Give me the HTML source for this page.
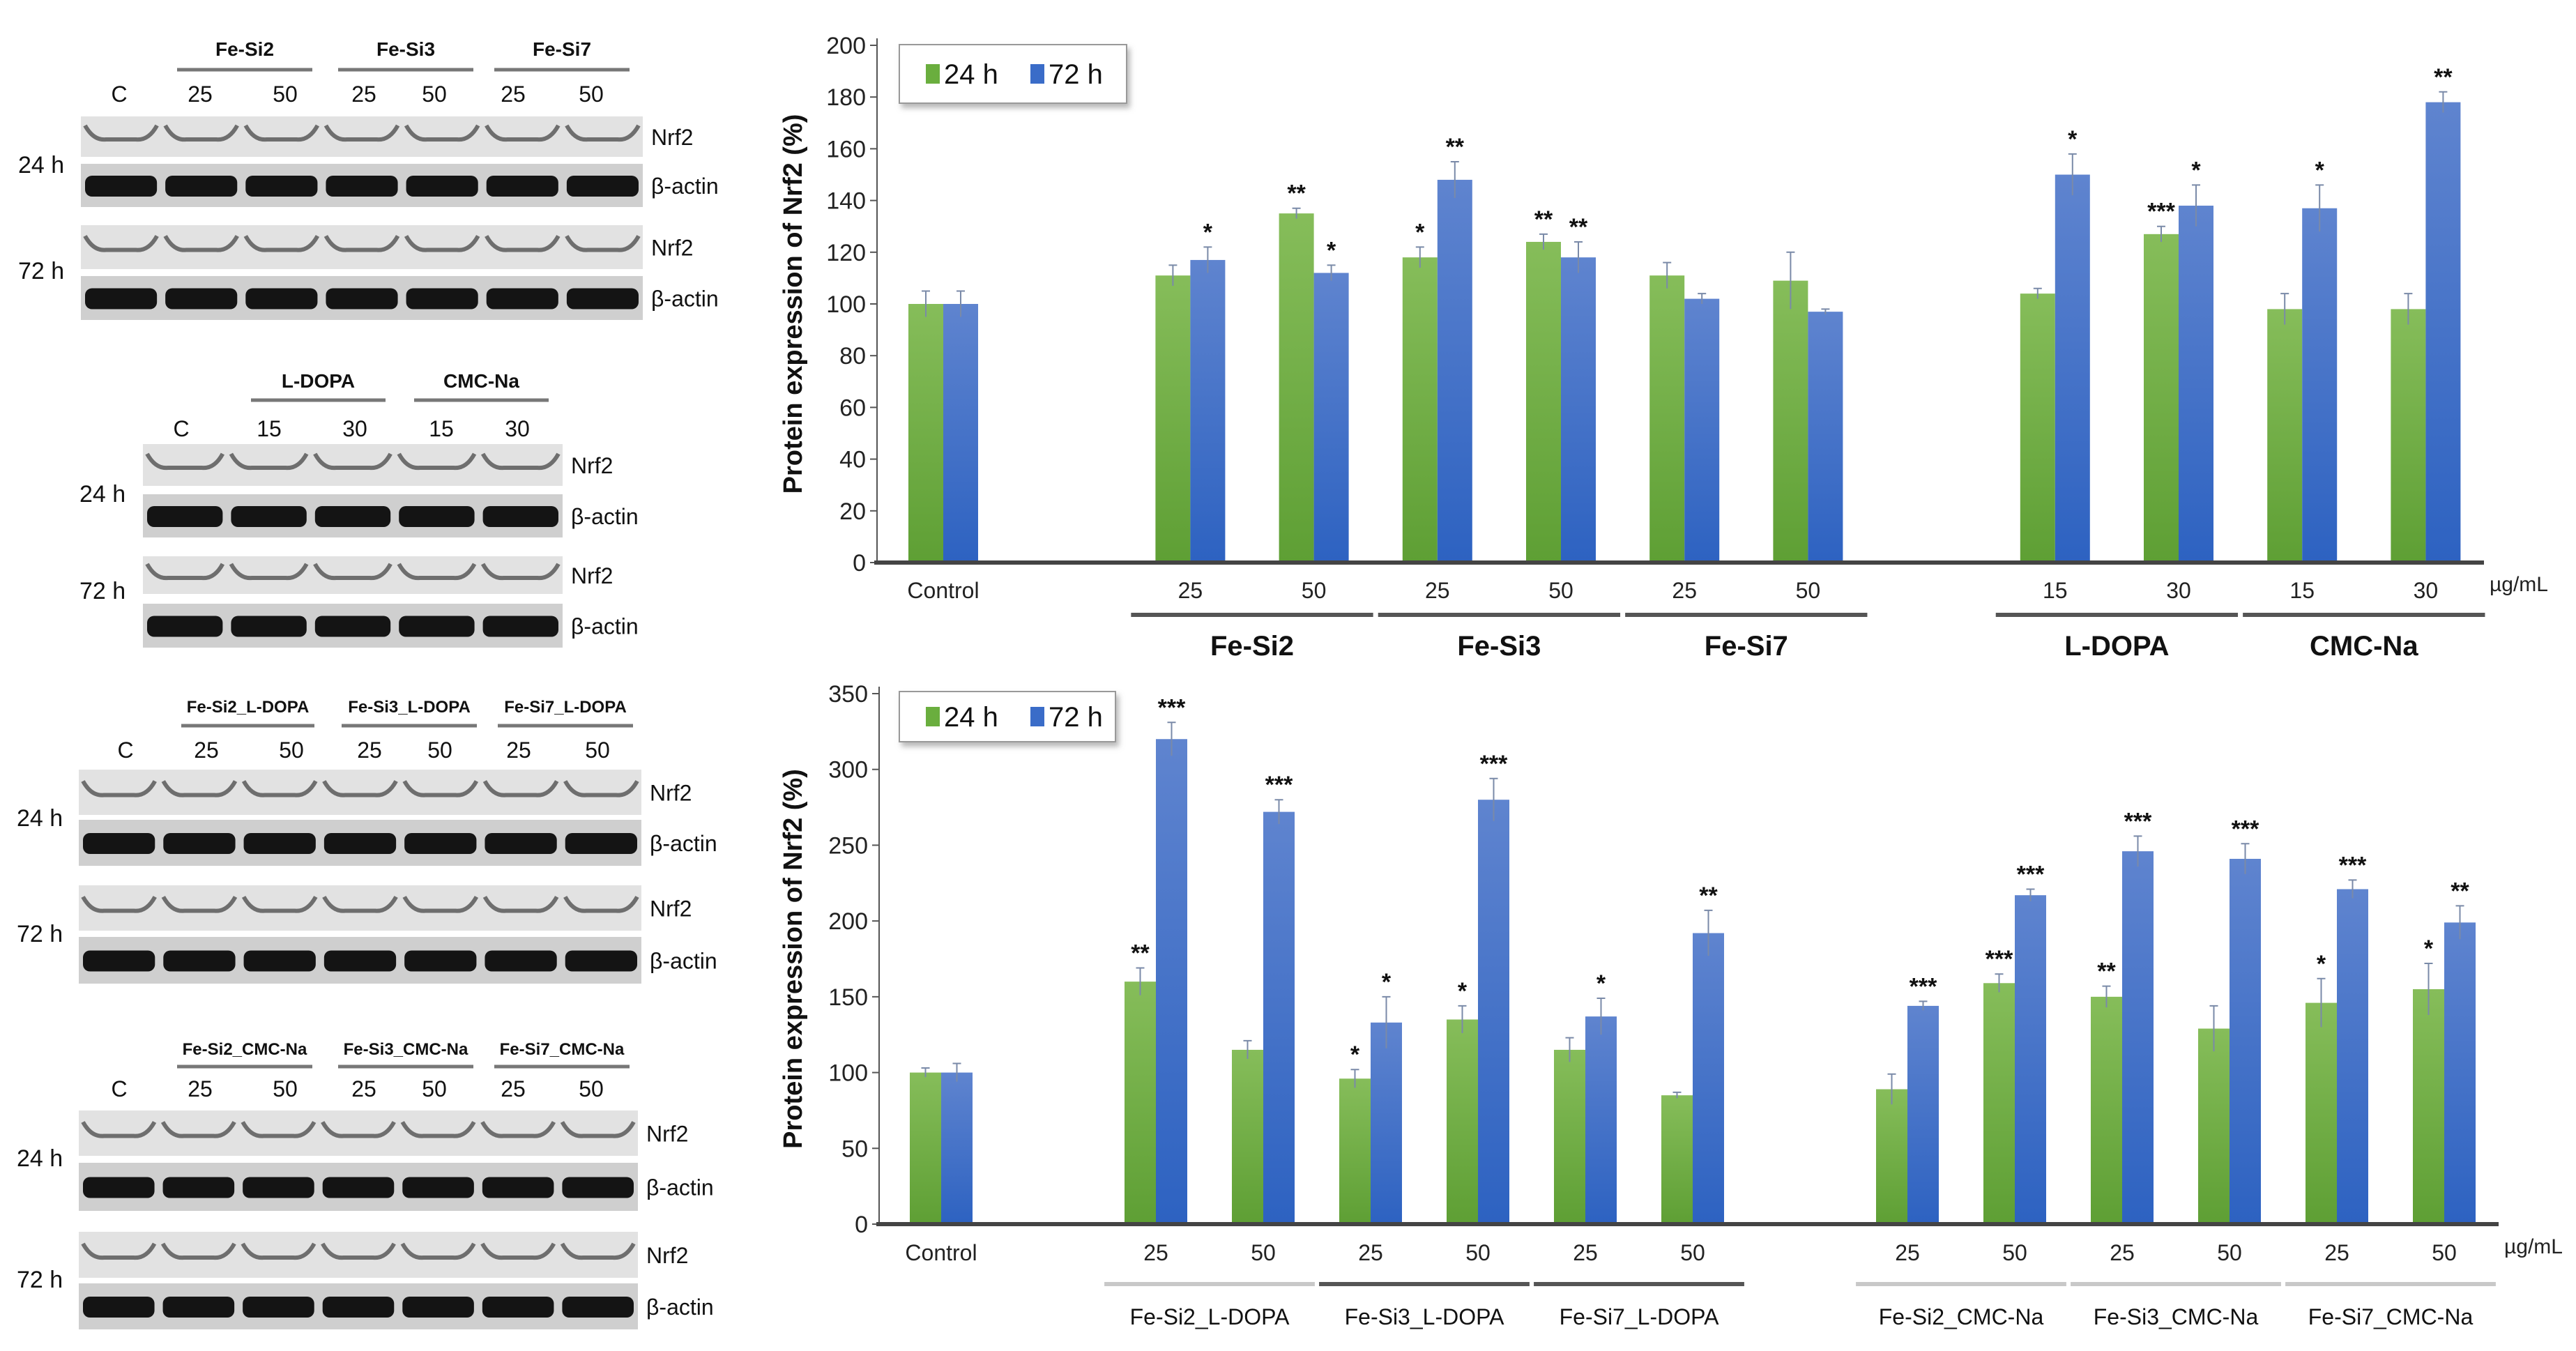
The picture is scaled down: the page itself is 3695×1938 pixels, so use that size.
<!DOCTYPE html>
<html><head><meta charset="utf-8">
<style>
html,body{margin:0;padding:0;background:#fff;}
body{width:3695px;height:1938px;overflow:hidden;position:relative;font-family:"Liberation Sans",Arial,sans-serif;}
svg{position:absolute;left:0;top:0;}
</style></head>
<body>
<svg id="fig" width="3695" height="1938" viewBox="0 0 3695 1938" xmlns="http://www.w3.org/2000/svg">
<defs>
<linearGradient id="gG" x1="0" y1="0" x2="0" y2="1"><stop offset="0" stop-color="#86bd5a"/><stop offset="1" stop-color="#5e9f34"/></linearGradient>
<linearGradient id="gB" x1="0" y1="0" x2="0" y2="1"><stop offset="0" stop-color="#5f84cf"/><stop offset="1" stop-color="#2d62c1"/></linearGradient>
<filter id="sh" x="-10%" y="-10%" width="130%" height="140%"><feDropShadow dx="4" dy="6" stdDeviation="4" flood-color="#888" flood-opacity="0.6"/></filter>
</defs>
<g id="blots"></g>
<g id="chart1"></g>
<g id="chart2"></g>
</svg>
<script>
// ---------- Chart data ----------
const top_slots = [0,2,3,4,5,6,7,9,10,11,12];
const top_ticks = ["Control","25","50","25","50","25","50","15","30","15","30"];
const top_h24 = [100,111,135,118,124,111,109,104,127,98,98];
const top_h72 = [100,117,112,148,118,102,97,150,138,137,178];
const top_e24 = [5,4,2,4,3,5,11,2,3,6,6];
const top_e72 = [5,5,3,7,6,2,1,8,8,9,4];
const top_s24 = ["","","**","*","**","","","","***","",""];
const top_s72 = ["","*","*","**","**","","","*","*","*","**"];
const top_yticks = [0,20,40,60,80,100,120,140,160,180,200];
const top_groups = ["Fe-Si2","Fe-Si3","Fe-Si7","L-DOPA","CMC-Na"];
const top_groupSlots = [[2,3],[4,5],[6,7],[9,10],[11,12]];

const bot_slots = [0,2,3,4,5,6,7,9,10,11,12,13,14];
const bot_ticks = ["Control","25","50","25","50","25","50","25","50","25","50","25","50"];
const bot_h24 = [100,160,115,96,135,115,85,89,159,150,129,146,155];
const bot_h72 = [100,320,272,133,280,137,192,144,217,246,241,221,199];
const bot_e24 = [3,9,6,6,9,8,2,10,6,7,15,16,17];
const bot_e72 = [6,11,8,17,14,12,15,3,4,10,10,6,11];
const bot_s24 = ["","**","","*","*","","","","***","**","","*","*"];
const bot_s72 = ["","***","***","*","***","*","**","***","***","***","***","***","**"];
const bot_yticks = [0,50,100,150,200,250,300,350];
const bot_groups = ["Fe-Si2_L-DOPA","Fe-Si3_L-DOPA","Fe-Si7_L-DOPA","Fe-Si2_CMC-Na","Fe-Si3_CMC-Na","Fe-Si7_CMC-Na"];
const bot_groupSlots = [[2,3],[4,5],[6,7],[9,10],[11,12],[13,14]];
const bot_groupColors = ["#c8c8c8","#555","#555","#c8c8c8","#c8c8c8","#c8c8c8"];

const NS="http://www.w3.org/2000/svg";
function mk(tag,attrs,parent){const e=document.createElementNS(NS,tag);for(const k in attrs)e.setAttribute(k,attrs[k]);parent.appendChild(e);return e;}

function drawChart(g,cfg){
  const y=v=>cfg.y0-(v-cfg.ymin)*(cfg.y0-cfg.y1)/(cfg.ymax-cfg.ymin);
  const x=s=>cfg.x0+s*cfg.slot;
  // y axis
  let ax=mk('line',{x1:cfg.ax,y1:cfg.y1-10,x2:cfg.ax,y2:cfg.y0,stroke:'#555','stroke-width':2},g);
  
  
  cfg.yticks.forEach(t=>{
    const tk=mk('line',{x1:cfg.ax-10,y1:y(t),x2:cfg.ax,y2:y(t),stroke:'#555','stroke-width':2},g);
    
    
    const tl=mk('text',{x:cfg.ax-16,y:y(t)+12,'text-anchor':'end','font-size':34,fill:'#222'},g);
    tl.textContent=t;
    
    
  });
  const tt=mk('text',{x:0,y:0,'text-anchor':'middle','font-size':38,'font-weight':'bold',fill:'#111',transform:`translate(${cfg.titleX},${(cfg.y0+cfg.y1)/2}) rotate(-90)`},g);
  tt.textContent='Protein expression of Nrf2 (%)';
  
  
  // bars
  cfg.slots.forEach((s,i)=>{
    const cx=x(s), bw=cfg.bw;
    [[cfg.h24[i],cfg.e24[i],cfg.s24[i],'url(#gG)',cx-bw,'#4f8a2c'],[cfg.h72[i],cfg.e72[i],cfg.s72[i],'url(#gB)',cx,'#244fa0']].forEach((d,j)=>{
      const r=mk('rect',{x:d[4],y:y(d[0]),width:bw,height:y(0)-y(d[0]),fill:d[3]},g);
      
      
      const ex=d[4]+bw/2;
      const eb=mk('path',{d:`M${ex},${y(d[0]-d[1])}V${y(d[0]+d[1])}M${ex-6},${y(d[0]+d[1])}H${ex+6}`,stroke:'#7a8aa8','stroke-width':2,fill:'none'},g);
      
      
      if(d[2]){
        const st=mk('text',{x:ex,y:y(d[0]+d[1])-10,'text-anchor':'middle','font-size':34,'font-weight':'bold',fill:'#111'},g);
        st.textContent=d[2];
        
        
      }
    });
    const tl=mk('text',{x:cx,y:cfg.tickY,'text-anchor':'middle','font-size':32,fill:'#222'},g);
    tl.textContent=cfg.ticks[i];
    
    
  });
  const xa=mk('line',{x1:cfg.ax-4,y1:cfg.y0,x2:cfg.xend,y2:cfg.y0,stroke:'#444','stroke-width':6},g);
  
  
  const un=mk('text',{x:cfg.xend+8,y:cfg.tickY-10,'font-size':30,fill:'#222'},g);
  un.textContent='µg/mL';
  
  
  cfg.groups.forEach((nm,i)=>{
    const a=x(cfg.gslots[i][0])-cfg.slot*0.48, b=x(cfg.gslots[i][1])+cfg.slot*0.48;
    const ln=mk('line',{x1:a,y1:cfg.lineY,x2:b,y2:cfg.lineY,stroke:cfg.gcol?cfg.gcol[i]:'#555','stroke-width':6},g);
    
    
    const gt=mk('text',{x:(a+b)/2,y:cfg.nameY,'text-anchor':'middle','font-size':cfg.gfs,'font-weight':cfg.gfw,fill:'#111'},g);
    gt.textContent=nm;
    
    
  });
  // legend
  const L=cfg.leg;
  const lb=mk('rect',{x:L[0],y:L[1],width:L[2],height:L[3],fill:'#fff',stroke:'#999','stroke-width':2,filter:'url(#sh)'},g);
  
  
  const cy=L[1]+L[3]/2;
  mk('rect',{x:L[0]+38,y:cy-14,width:20,height:28,fill:'#6aae3e'},g);
  const t1=mk('text',{x:L[0]+64,y:cy+14,'font-size':40,fill:'#111'},g);t1.textContent='24 h';
  
  
  mk('rect',{x:L[0]+188,y:cy-14,width:20,height:28,fill:'#3a6cc8'},g);
  const t2=mk('text',{x:L[0]+214,y:cy+14,'font-size':40,fill:'#111'},g);t2.textContent='72 h';
  
  
}

drawChart(document.getElementById('chart1'),{
  ax:1258,x0:1353,slot:177.2,bw:50,y0:807,y1:65,ymin:0,ymax:200,yticks:top_yticks,
  slots:top_slots,ticks:top_ticks,h24:top_h24,h72:top_h72,e24:top_e24,e72:top_e72,s24:top_s24,s72:top_s72,
  xend:3563,tickY:858,lineY:882,nameY:940,groups:top_groups,gslots:top_groupSlots,gfs:40,gfw:'bold',
  titleX:1150,leg:[1290,64,326,84]
});
drawChart(document.getElementById('chart2'),{
  ax:1261,x0:1350,slot:154,bw:45,y0:1756,y1:995,ymin:0,ymax:350,yticks:bot_yticks,
  slots:bot_slots,ticks:bot_ticks,h24:bot_h24,h72:bot_h72,e24:bot_e24,e72:bot_e72,s24:bot_s24,s72:bot_s72,
  xend:3584,tickY:1808,lineY:1842,nameY:1900,groups:bot_groups,gslots:bot_groupSlots,gcol:bot_groupColors,gfs:32,gfw:'normal',
  titleX:1150,leg:[1290,992,310,72]
});

// ---------- Western blots ----------
const B=document.getElementById('blots');
function txt(x,y,s,fs,fw,anchor,name){const t=mk('text',{x:x,y:y,'font-size':fs,'font-weight':fw||'normal','text-anchor':anchor||'middle',fill:'#111'},B);t.textContent=s;return t;}
function strip(x0,x1,y0,y1,lanes,kind){
  const r=mk('rect',{x:x0,y:y0,width:x1-x0,height:y1-y0,fill:kind==='actin'?'#cfcfcf':'#e2e2e2'},B);
  
  
  const lw=(x1-x0)/lanes;
  for(let i=0;i<lanes;i++){
    const a=x0+i*lw+6,b=x0+(i+1)*lw-6,m=(y0+y1)/2;
    if(kind==='actin'){
      const band=mk('rect',{x:a,y:m-14,width:b-a,height:30,rx:10,fill:'#141414'},B);
      
      
    } else {
      const band=mk('path',{d:`M${a},${m-16}Q${a+12},${m+6} ${a+30},${m+4}H${b-30}Q${b-12},${m+6} ${b},${m-16}`,stroke:'#6e6e6e','stroke-width':6,fill:'none'},B);
      
      
    }
  }
}
function blot(cfg){
  cfg.headers.forEach(h=>{
    txt((h[0]+h[1])/2,cfg.hY,h[2],cfg.hfs,'bold','middle','blot-group-header');
    const l=mk('line',{x1:h[0],y1:cfg.lY,x2:h[1],y2:cfg.lY,stroke:'#777','stroke-width':5},B);
    
    
  });
  cfg.lanes.forEach(l=>txt(l[0],cfg.laneY,l[1],32,'normal','middle','lane-label'));
  cfg.rows.forEach(r=>{
    strip(cfg.x0,cfg.x1,r[0],r[1],cfg.lanes.length,r[2]);
    txt(cfg.x1+12,(r[0]+r[1])/2+12,r[2]==='actin'?'β-actin':'Nrf2',32,'normal','start','row-label');
  });
  txt(cfg.tx,cfg.t24,'24 h',34,'normal','start','time-label-24h');
  txt(cfg.tx,cfg.t72,'72 h',34,'normal','start','time-label-72h');
}
blot({x0:116,x1:922,hY:80,lY:100,laneY:146,hfs:28,
  headers:[[254,448,'Fe-Si2'],[485,679,'Fe-Si3'],[709,903,'Fe-Si7']],
  lanes:[[171,'C'],[287,'25'],[409,'50'],[522,'25'],[623,'50'],[736,'25'],[848,'50']],
  rows:[[167,225,'nrf2'],[235,297,'actin'],[323,386,'nrf2'],[396,459,'actin']],tx:26,t24:248,t72:400});
blot({x0:205,x1:807,hY:556,lY:574,laneY:626,hfs:28,
  headers:[[360,553,'L-DOPA'],[594,787,'CMC-Na']],
  lanes:[[260,'C'],[386,'15'],[509,'30'],[633,'15'],[742,'30']],
  rows:[[637,697,'nrf2'],[709,771,'actin'],[798,852,'nrf2'],[866,929,'actin']],tx:114,t24:720,t72:859});
blot({x0:113,x1:920,hY:1022,lY:1041,laneY:1087,hfs:24,
  headers:[[260,451,'Fe-Si2_L-DOPA'],[490,684,'Fe-Si3_L-DOPA'],[714,908,'Fe-Si7_L-DOPA']],
  lanes:[[180,'C'],[296,'25'],[418,'50'],[530,'25'],[631,'50'],[744,'25'],[857,'50']],
  rows:[[1104,1169,'nrf2'],[1176,1242,'actin'],[1270,1335,'nrf2'],[1344,1411,'actin']],tx:24,t24:1185,t72:1351});
blot({x0:113,x1:915,hY:1513,lY:1530,laneY:1573,hfs:24,
  headers:[[254,448,'Fe-Si2_CMC-Na'],[485,679,'Fe-Si3_CMC-Na'],[709,903,'Fe-Si7_CMC-Na']],
  lanes:[[171,'C'],[287,'25'],[409,'50'],[522,'25'],[623,'50'],[736,'25'],[848,'50']],
  rows:[[1593,1658,'nrf2'],[1668,1737,'actin'],[1767,1833,'nrf2'],[1841,1907,'actin']],tx:24,t24:1673,t72:1847});
</script>
</body></html>
